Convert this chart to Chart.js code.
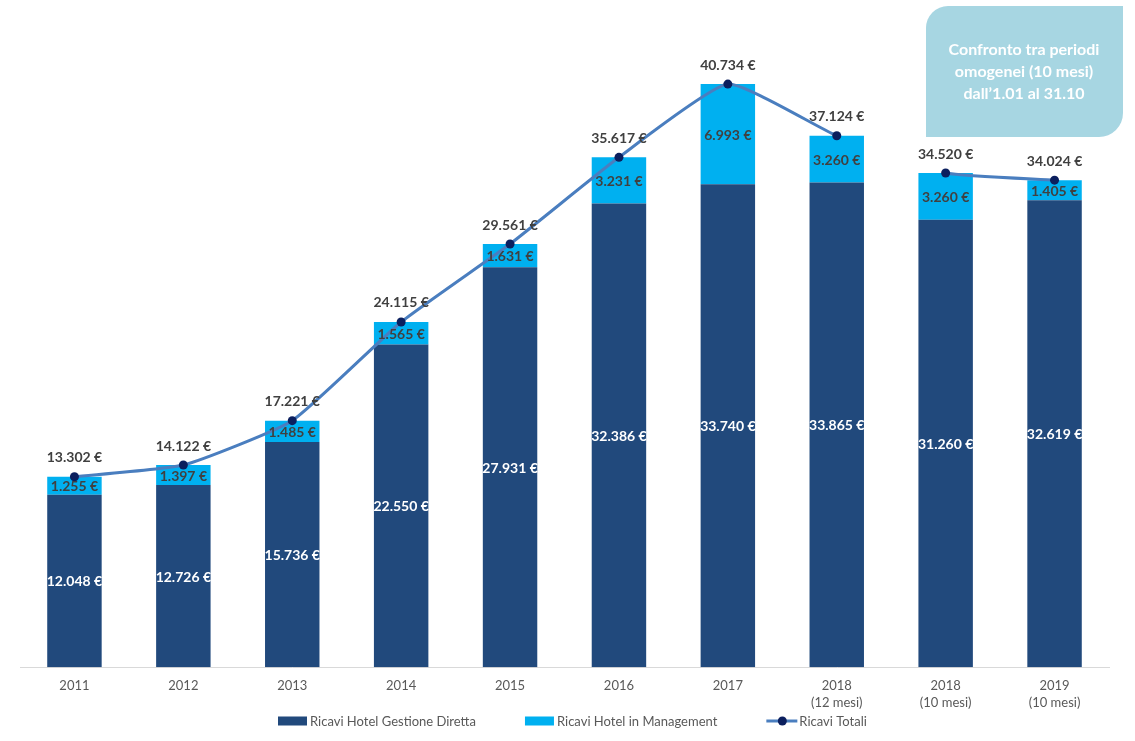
<!DOCTYPE html>
<html><head><meta charset="utf-8">
<script src="https://cdn.jsdelivr.net/npm/chart.js@4.4.1/dist/chart.umd.min.js"></script>
<style>html,body{margin:0;padding:0;background:#fff;} #wrap{width:1135px;height:741px;position:relative;}</style>
</head><body><div id="wrap"><canvas id="c"></canvas></div>
<script>
const categories = [['2011'],['2012'],['2013'],['2014'],['2015'],['2016'],['2017'],['2018','(12 mesi)'],['2018','(10 mesi)'],['2019','(10 mesi)']];
const gestioneDiretta = [12048,12726,15736,22550,27931,32386,33740,33865,31260,32619];
const inManagement = [1255,1397,1485,1565,1631,3231,6993,3260,3260,1405];
const ricaviTotali = [13302,14122,17221,24115,29561,35617,40734,37124,34520,34024];
const seriesNames = ['Ricavi Hotel Gestione Diretta','Ricavi Hotel in Management','Ricavi Totali'];
const noteLines = ['Confronto tra periodi','omogenei (10 mesi)','dall\u20191.01 al 31.10'];
const yMax = 45000;
const lineBreakAfter = 7;

const C_DARK = '#21497c', C_LIGHT = '#00b0f0', C_LINE = '#4a7ebf', C_DOT = '#0b1f5e';
const FONT = 'Lato, "Open Sans", sans-serif';

function fmt(v){ return String(v).replace(/\B(?=(\d{3})+(?!\d))/g,'.') + ' \u20ac'; }

const labelsPlugin = {
  id:'valueLabels',
  afterDatasetsDraw(chart){
    const ctx = chart.ctx;
    ctx.save();
    ctx.textAlign='center'; ctx.textBaseline='middle';
    ctx.font = 'bold 14px ' + FONT;
    chart.data.datasets.forEach((ds,di)=>{
      const meta = chart.getDatasetMeta(di);
      meta.data.forEach((el,i)=>{
        const v = ds.data[i];
        if (ds.type==='line'){
          ctx.fillStyle='#404040';
          ctx.fillText(fmt(v), el.x, el.y-19);
        } else {
          ctx.fillStyle = di===0 ? '#ffffff' : '#404040';
          ctx.fillText(fmt(v), el.x, (el.y+el.base)/2 + 1);
        }
      });
    });
    ctx.restore();
  }
};

const notePlugin = {
  id:'note',
  afterDraw(chart){
    const ctx = chart.ctx;
    ctx.save();
    ctx.fillStyle='#a7d6e2';
    ctx.beginPath();
    ctx.roundRect(926,6,197,131,[22,0,24,0]);
    ctx.fill();
    ctx.fillStyle='#ffffff';
    ctx.font='bold 16px ' + FONT;
    ctx.textAlign='center'; ctx.textBaseline='middle';
    noteLines.forEach((t,i)=>ctx.fillText(t,1024,50+i*22));
    ctx.restore();
  }
};

const legendPlugin = {
  id:'customLegend',
  afterDraw(chart){
    const ctx = chart.ctx;
    ctx.save();
    ctx.font='13px ' + FONT;
    ctx.textBaseline='middle'; ctx.textAlign='left';
    let x = 278; const y = 721;
    chart.data.datasets.forEach((ds,i)=>{
      if (ds.type==='line'){
        ctx.strokeStyle=ds.borderColor; ctx.lineWidth=3;
        ctx.beginPath(); ctx.moveTo(x,y); ctx.lineTo(x+31,y); ctx.stroke();
        ctx.fillStyle=ds.pointBackgroundColor;
        ctx.beginPath(); ctx.arc(x+16,y,4.5,0,Math.PI*2); ctx.fill();
        x += 33;
      } else {
        ctx.fillStyle=ds.backgroundColor;
        ctx.fillRect(x,y-4.5,29,9);
        x += 32;
      }
      ctx.fillStyle='#595959';
      ctx.fillText(ds.label,x,y+1);
      x += ctx.measureText(ds.label).width + 49;
    });
    ctx.restore();
  }
};

new Chart(document.getElementById('c'),{
  data:{
    labels:categories,
    datasets:[
      {type:'bar',label:seriesNames[0],data:gestioneDiretta,backgroundColor:C_DARK,stack:'bars',categoryPercentage:0.5,barPercentage:1},
      {type:'bar',label:seriesNames[1],data:inManagement,backgroundColor:C_LIGHT,stack:'bars',categoryPercentage:0.5,barPercentage:1},
      {type:'line',label:seriesNames[2],data:ricaviTotali,stack:'line',order:-1,borderColor:C_LINE,borderWidth:3,
       pointBackgroundColor:C_DOT,pointBorderColor:C_DOT,pointRadius:4.5,pointBorderWidth:0,tension:0.15,
       segment:{borderColor:c=>c.p0DataIndex===lineBreakAfter?'rgba(0,0,0,0)':undefined}}
    ]
  },
  options:{
    responsive:true,maintainAspectRatio:false,animation:false,
    layout:{padding:{left:20,right:26,top:23,bottom:20}},
    plugins:{legend:{display:false},tooltip:{enabled:false}},
    scales:{
      x:{grid:{display:false,drawTicks:false},border:{display:true,color:'#d9d9d9',width:1},
         ticks:{color:'#595959',font:{family:FONT,size:13,lineHeight:1.3},padding:10,maxRotation:0,autoSkip:false}},
      y:{display:false,stacked:true,min:0,max:yMax}
    }
  },
  plugins:[labelsPlugin,notePlugin,legendPlugin]
});
</script></body></html>
